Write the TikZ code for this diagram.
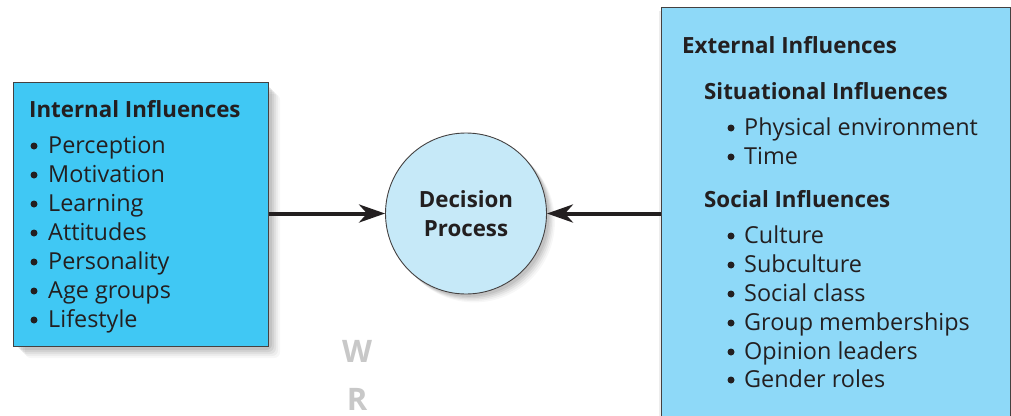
\documentclass[tikz,border=0pt]{standalone}
\usepackage{fontspec}
\setmainfont{Open Sans}
\usetikzlibrary{arrows.meta}
\definecolor{leftfill}{HTML}{40C8F4}
\definecolor{rightfill}{HTML}{8ED9F8}
\definecolor{circfill}{HTML}{C6E9F8}
\definecolor{txt}{HTML}{231F20}
\definecolor{wm}{HTML}{C8C8C8}
\tikzset{
  boxstyle/.style={draw=txt!85, line width=0.9pt},
  title/.style={anchor=base west, inner sep=0pt, font=\fontsize{22.3}{24}\selectfont\bfseries, text=txt},
  item/.style={anchor=base west, inner sep=0pt, font=\fontsize{23.4}{26}\selectfont, text=txt},
  bul/.style={circle, fill=txt, inner sep=0pt, minimum size=7pt},
  conn/.style={line width=4pt, draw=txt, -{Stealth[length=26pt,width=18pt,inset=8pt]}},
  wmark/.style={anchor=base, inner sep=0pt, font=\fontsize{31}{33}\selectfont\bfseries, text=wm}
}
\begin{document}
\begin{tikzpicture}[x=1pt,y=-1pt]
\useasboundingbox (0,0) rectangle (1011,415);
\fill[white] (0,0) rectangle (1011,415);
% shadows
\foreach \d/\o in {12/0.03,10/0.04,8/0.05,6/0.06,4/0.07}{
  \fill[black,opacity=\o,rounded corners=6pt] (13+\d,82+\d) rectangle (268+\d,346+\d);
  \fill[black,opacity=\o] (466+\d*0.7,213.5+\d*0.7) circle (80.5);
  \fill[black,opacity=\o] (661-6+\d,7+\d) rectangle (661,430);
}
% left box
\node[boxstyle, fill=leftfill, minimum width=255pt, minimum height=264pt, inner sep=0pt, anchor=north west] (inbox) at (13,82) {};
% right box
\node[boxstyle, fill=rightfill, minimum width=349pt, minimum height=420pt, inner sep=0pt, anchor=north west] (exbox) at (661,7) {};
% circle
\node[boxstyle, circle, fill=circfill, minimum size=161pt, inner sep=0pt] (dp) at (466,213.5) {};
\node[anchor=base, inner sep=0pt, font=\fontsize{22.3}{24}\selectfont\bfseries, text=txt] (dp1) at (466,207) {Decision};
\node[anchor=base, inner sep=0pt, font=\fontsize{22.3}{24}\selectfont\bfseries, text=txt] (dp2) at (466,236) {Process};
% connectors
\draw[conn] (inbox.east |- dp.west) -- (dp.west);
\draw[conn] (exbox.west |- dp.east) -- (dp.east);
% left text
\node[title] (it) at (29,117) {Internal Influences};
\node[bul] (b1) at (34,146) {}; \node[item] (i1) at (48,153) {Perception};
\node[bul] (b2) at (34,175) {}; \node[item] (i2) at (48,182) {Motivation};
\node[bul] (b3) at (34,204) {}; \node[item] (i3) at (48,211) {Learning};
\node[bul] (b4) at (34,233) {}; \node[item] (i4) at (48,240) {Attitudes};
\node[bul] (b5) at (34,262) {}; \node[item] (i5) at (48,269) {Personality};
\node[bul] (b6) at (34,291) {}; \node[item] (i6) at (48,298) {Age groups};
\node[bul] (b7) at (34,320) {}; \node[item] (i7) at (48,327) {Lifestyle};
% right text
\node[title] (et) at (682,53) {External Influences};
\node[title] (st) at (704,99) {Situational Influences};
\node[bul] (c1) at (731,128) {}; \node[item] (e1) at (744,135) {Physical environment};
\node[bul] (c2) at (731,157) {}; \node[item] (e2) at (744,164) {Time};
\node[title] (so) at (704,207) {Social Influences};
\node[bul] (c3) at (731,236) {}; \node[item] (e3) at (744,243) {Culture};
\node[bul] (c4) at (731,265) {}; \node[item] (e4) at (744,272) {Subculture};
\node[bul] (c5) at (731,294) {}; \node[item] (e5) at (744,301) {Social class};
\node[bul] (c6) at (731,323) {}; \node[item] (e6) at (744,330) {Group memberships};
\node[bul] (c7) at (731,352) {}; \node[item] (e7) at (744,359) {Opinion leaders};
\node[bul] (c8) at (731,380) {}; \node[item] (e8) at (744,387) {Gender roles};
% watermark letters
\node[wmark] (w) at (357,362) {W};
\node[wmark] (r) at (357,410) {R};
\end{tikzpicture}
\end{document}
